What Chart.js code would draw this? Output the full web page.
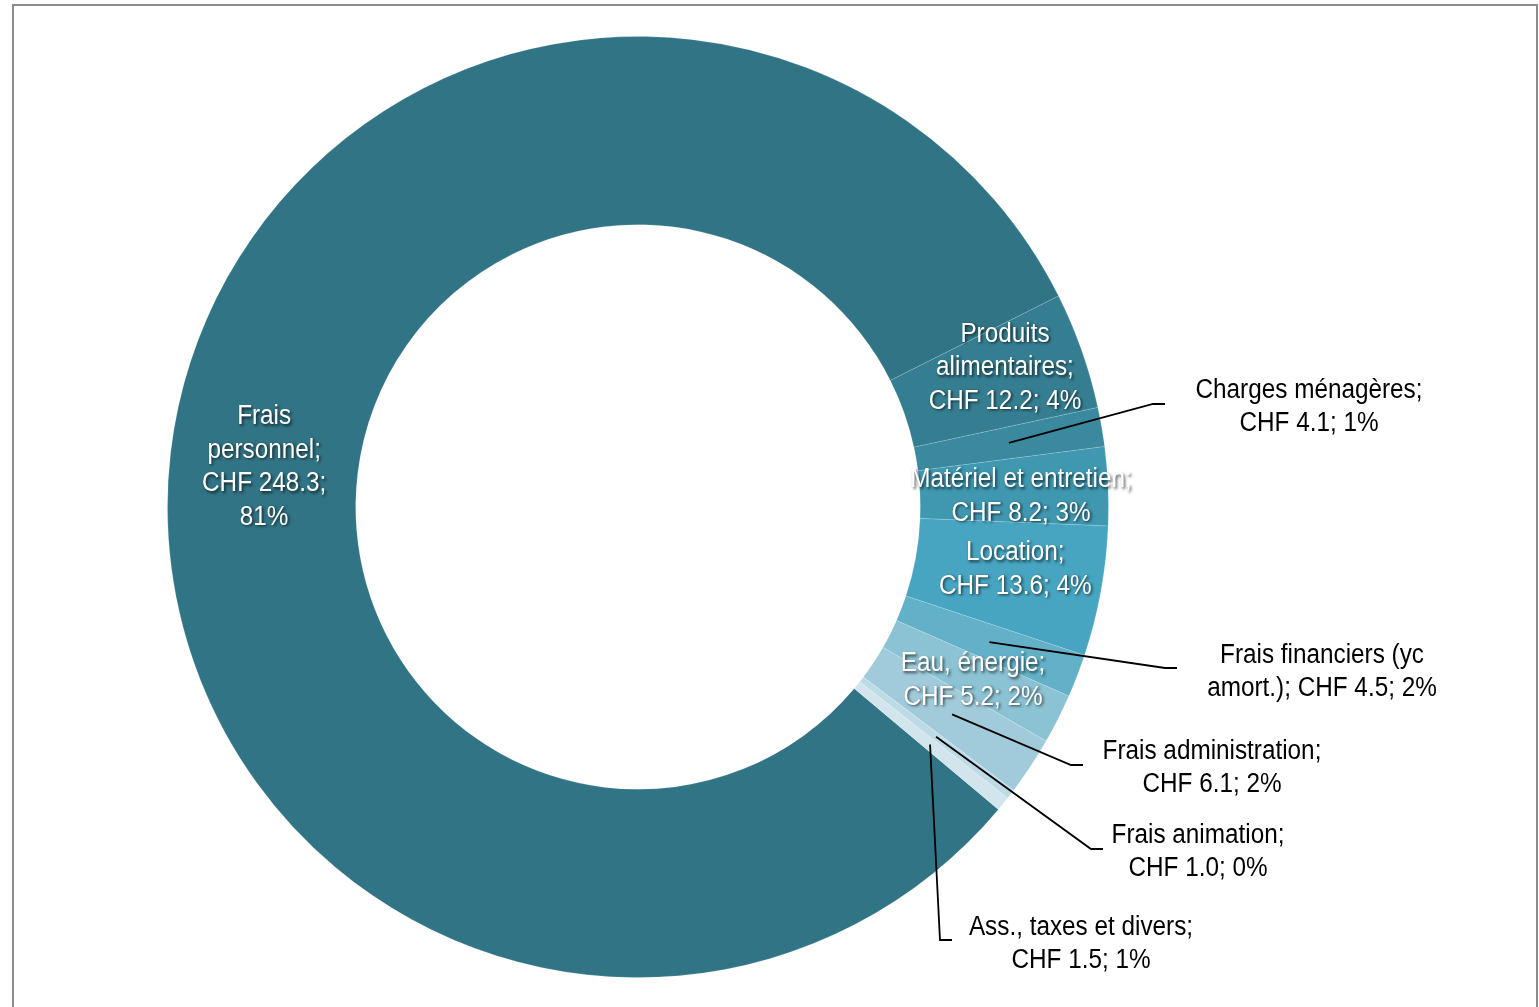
<!DOCTYPE html>
<html lang="fr">
<head>
  <meta charset="UTF-8" />
  <title>Charges d'exploitation</title>
  <script src="https://cdn.jsdelivr.net/npm/chart.js"></script>
  <style>
    html, body {
      margin: 0;
      padding: 0;
      background: #fff;
    }
    body {
      width: 1539px;
      height: 1007px;
      overflow: hidden;
      position: relative;
    }
    #frame {
      position: absolute;
      left: 12px;
      top: 4px;
      width: 1522px;
      height: 1020px;
      border: 2px solid #8c8c8c;
      border-bottom: none;
    }
    #chart {
      position: absolute;
      left: 0;
      top: 0;
    }
  </style>
</head>
<body>
  <div id="frame"></div>
  <canvas id="chart" width="1539" height="1007"></canvas>

  <script>
    // données (CHF)
    const names = [
      'Frais\npersonnel',
      'Produits\nalimentaires',
      'Charges ménagères',
      'Matériel et entretien',
      'Location',
      'Frais financiers (yc\namort.)',
      'Eau, énergie',
      'Frais administration',
      'Frais animation',
      'Ass., taxes et divers'
    ];
    const values = [248.3, 12.2, 4.1, 8.2, 13.6, 4.5, 5.2, 6.1, 1.0, 1.5];
    const shares = ['81%', '4%', '1%', '3%', '4%', '2%', '2%', '2%', '0%', '1%'];

    const colors = [
      '#317485', '#357e91', '#3a899e', '#3f97b0', '#47a5c1',
      '#63b1c8', '#8bc3d4', '#a1cbdb', '#bddbe6', '#d2e5ec'
    ];

    // police étroite : Liberation Sans compressée horizontalement
    const FONT = '27px "Liberation Sans", Arial, sans-serif';
    const NARROW = 0.9;
    const LINE_H = 33.5;
    const BASE_SHIFT = 2;

    // format des étiquettes (retours à la ligne comme sur l'original)
    const labelFormat = {
      0: '{n};\nCHF {v};\n{p}',
      5: '{n}; CHF {v}; {p}'
    };

    // étiquettes extérieures : position du texte et fin du trait, par rapport au centre
    const outside = {
      2: { tx: 671, ty: -102, ex: 527, ey: -103 },
      5: { tx: 684, ty: 163, ex: 539, ey: 161 },
      7: { tx: 574, ty: 259, ex: 445, ey: 258 },
      8: { tx: 560, ty: 343, ex: 465, ey: 342 },
      9: { tx: 443, ty: 435, ex: 314, ey: 433 }
    };
    // petits décalages des étiquettes intérieures
    const nudge = {
      0: [0, 2], 1: [12, -16], 3: [7, 4], 4: [7, -7], 6: [-1, 2]
    };

    function labelLines(i) {
      const fmt = labelFormat[i] || '{n};\nCHF {v}; {p}';
      return fmt
        .replace('{n}', names[i])
        .replace('{v}', values[i].toFixed(1))
        .replace('{p}', shares[i])
        .split('\n');
    }

    function narrowText(ctx, t, x, y) {
      ctx.save();
      ctx.translate(x, y);
      ctx.scale(NARROW, 1);
      ctx.fillText(t, 0, 0);
      ctx.restore();
    }

    const sliceLabels = {
      id: 'sliceLabels',
      afterDatasetsDraw(chart) {
        const ctx = chart.ctx;
        const meta = chart.getDatasetMeta(0);
        ctx.save();
        ctx.font = FONT;
        ctx.textAlign = 'center';
        ctx.textBaseline = 'middle';

        meta.data.forEach((arc, i) => {
          const lines = labelLines(i);
          const c = arc.getCenterPoint();
          const out = outside[i];
          let x, y;

          if (out) {
            // trait de rappel
            ctx.strokeStyle = '#000';
            ctx.lineWidth = 1.8;
            ctx.beginPath();
            ctx.moveTo(c.x, c.y);
            ctx.lineTo(arc.x + out.ex - 12, arc.y + out.ey);
            ctx.lineTo(arc.x + out.ex, arc.y + out.ey);
            ctx.stroke();
            x = arc.x + out.tx;
            y = arc.y + out.ty;
            ctx.fillStyle = '#000';
            ctx.shadowColor = 'transparent';
          } else {
            const n = nudge[i] || [0, 0];
            x = c.x + n[0];
            y = c.y + n[1];
            ctx.fillStyle = '#fff';
            ctx.shadowColor = 'rgba(0,0,0,0.7)';
            ctx.shadowOffsetX = 1.5;
            ctx.shadowOffsetY = 1.5;
            ctx.shadowBlur = 3;
          }

          const top = y + BASE_SHIFT - (lines.length - 1) * LINE_H / 2;
          lines.forEach((t, k) => narrowText(ctx, t, x, top + k * LINE_H));
          ctx.shadowColor = 'transparent';
          ctx.shadowOffsetX = 0;
          ctx.shadowOffsetY = 0;
          ctx.shadowBlur = 0;
        });
        ctx.restore();
      }
    };

    new Chart(document.getElementById('chart'), {
      type: 'doughnut',
      data: {
        labels: names.map(n => n.replace('\n', ' ')),
        datasets: [{
          data: values,
          backgroundColor: colors,
          borderColor: 'rgba(255,255,255,0.15)',
          borderWidth: 1
        }]
      },
      options: {
        responsive: false,
        animation: false,
        rotation: 130,
        cutout: '60%',
        layout: {
          padding: { left: 167, right: 430, top: 36, bottom: 29 }
        },
        plugins: {
          legend: { display: false },
          tooltip: { enabled: false }
        }
      },
      plugins: [sliceLabels]
    });
  </script>
</body>
</html>
